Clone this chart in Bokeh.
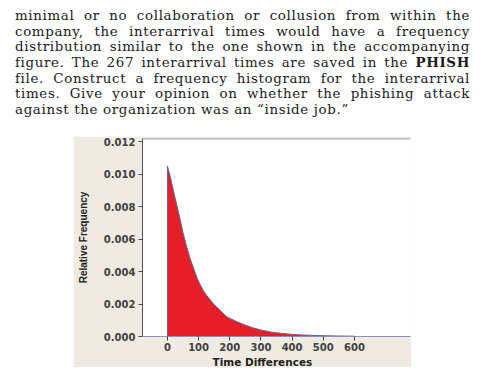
from bokeh.plotting import figure
from bokeh.models import Div, Spacer, Span, Title, FixedTicker, NumeralTickFormatter, Range1d
from bokeh.layouts import column, row
from bokeh.embed import file_html
from bokeh.resources import INLINE

# ---- data ----
text_lines = [
    "minimal or no collaboration or collusion from within the",
    "company, the interarrival times would have a frequency",
    "distribution similar to the one shown in the accompanying",
    "figure. The 267 interarrival times are saved in the <b>PHISH</b>",
    "file. Construct a frequency histogram for the interarrival",
    "times. Give your opinion on whether the phishing attack",
    "against the organization was an \u201cinside job.\u201d",
]
time_x = [0, 10, 19, 30, 41, 50, 62, 73, 84, 95, 105, 116, 127, 138, 148, 159,
          170, 180, 191, 200, 222, 250, 277, 300, 331, 350, 385, 400, 437, 450,
          500, 550, 600]
rel_freq = [0.0105, 0.0098, 0.0090, 0.0081, 0.0072, 0.0064, 0.0055, 0.0048,
            0.0042, 0.0036, 0.0032, 0.0028, 0.0025, 0.00225, 0.0020, 0.0018,
            0.0016, 0.0014, 0.0012, 0.00112, 0.00092, 0.0007, 0.00052, 0.0004,
            0.00028, 0.00023, 0.00016, 0.00013, 0.00009, 0.00008, 0.00005,
            0.00003, 0.00002]
y_ticks = [0.000, 0.002, 0.004, 0.006, 0.008, 0.010, 0.012]
x_ticks = [0, 100, 200, 300, 400, 500, 600]
x_title = "Time Differences"
y_title = "Relative Frequency"

# ---- paragraph ----
parts = []
for i, ln in enumerate(text_lines):
    if i < len(text_lines) - 1:
        parts.append('<div style="text-align:justify;text-align-last:justify;height:15.7px;">%s</div>' % ln)
    else:
        parts.append('<div style="text-align:left;height:15.7px;">%s</div>' % ln)
html = ('<div style="font-family:\'DejaVu Serif\';font-size:13.4px;line-height:15.7px;'
        'letter-spacing:0.65px;color:#1a1a1a;box-sizing:border-box;width:470px;'
        'padding-left:15px;padding-top:8px;margin:0;">'
        + "".join(parts) + '</div>')
div = Div(text=html, width=479, height=136, margin=(0, 0, 0, 0))

# ---- chart ----
p = figure(width=338, height=231, x_range=Range1d(-80, 780), y_range=Range1d(0, 0.0122),
           output_backend="svg", toolbar_location=None,
           min_border_left=69, min_border_right=1, min_border_top=2, min_border_bottom=10,
           border_fill_color="#efebe3", background_fill_color="white",
           outline_line_color=None, margin=(0, 0, 0, 0))
p.grid.visible = False

px = [time_x[0]] + time_x + [time_x[-1]]
py = [0] + rel_freq + [0]
p.patch(px, py, fill_color="#e61e28", line_color=None)
p.line([time_x[0]] + time_x, [0] + rel_freq, line_color="#5a6c92", line_width=1)

p.add_layout(Span(location=0.0122, dimension="width", line_color="#6e6e6e", line_width=1.5))

p.yaxis.ticker = FixedTicker(ticks=y_ticks)
p.yaxis.formatter = NumeralTickFormatter(format="0.000")
p.yaxis.minor_tick_line_color = None
p.yaxis.major_tick_in = 0
p.yaxis.major_tick_out = 4
p.yaxis.major_tick_line_color = "#505050"
p.yaxis.axis_line_color = "#505050"
p.yaxis.major_label_text_font = "DejaVu Sans"
p.yaxis.major_label_text_font_style = "bold"
p.yaxis.major_label_text_font_size = "10px"
p.yaxis.major_label_text_color = "#404040"
p.yaxis.major_label_standoff = 3
p.yaxis.axis_label = y_title
p.yaxis.axis_label_text_font = "Liberation Sans"
p.yaxis.axis_label_text_font_style = "bold"
p.yaxis.axis_label_text_font_size = "10px"
p.yaxis.axis_label_text_color = "#222222"
p.yaxis.axis_label_standoff = 12

p.xaxis.ticker = FixedTicker(ticks=x_ticks)
p.xaxis.minor_tick_line_color = None
p.xaxis.major_tick_in = 0
p.xaxis.major_tick_out = 4
p.xaxis.major_tick_line_color = "#404040"
p.xaxis.axis_line_color = "#8a90c8"
p.xaxis.major_label_text_font = "DejaVu Sans"
p.xaxis.major_label_text_font_style = "bold"
p.xaxis.major_label_text_font_size = "10px"
p.xaxis.major_label_text_color = "#404040"
p.xaxis.major_label_standoff = 2

p.add_layout(Title(text=x_title, align="left", offset=70, standoff=0,
                   text_font="DejaVu Sans", text_font_style="bold",
                   text_font_size="10.5px", text_color="#222222"), "below")

layout = column(div, row(Spacer(width=73, height=231, margin=(0, 0, 0, 0)), p, margin=(0, 0, 0, 0)),
                margin=(0, 0, 0, 0))
open("out.html", "w").write(file_html(layout, INLINE))
